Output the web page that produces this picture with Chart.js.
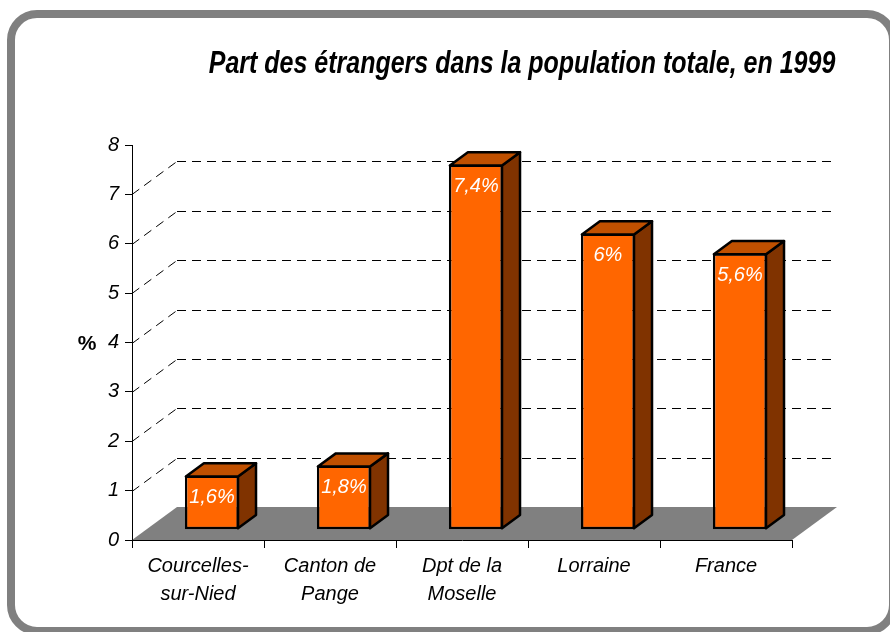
<!DOCTYPE html>
<html>
<head>
<meta charset="utf-8">
<script src="https://cdn.jsdelivr.net/npm/chart.js@4.4.1/dist/chart.umd.min.js"></script>
<style>
  body { margin: 0; background: #fff; }
  #wrap { width: 890px; height: 632px; }
</style>
</head>
<body>
<div id="wrap"><canvas id="chart" width="890" height="632"></canvas></div>
<script>
// data
const categories = [['Courcelles-', 'sur-Nied'], ['Canton de', 'Pange'], ['Dpt de la', 'Moselle'], 'Lorraine', 'France'];
// bar heights as drawn on the chart
const values = [1.1, 1.3, 7.4, 6.0, 5.6];
// labels as printed on the bars
const valueLabels = ['1,6%', '1,8%', '7,4%', '6%', '5,6%'];
const yTicks = [0, 1, 2, 3, 4, 5, 6, 7, 8];
const title = 'Part des étrangers dans la population totale, en 1999';

const FONT = '"Liberation Sans", Arial, sans-serif';
const DEPTH = { dx: 45, dy: -33 };   // floor depth
const FRONT = 0.31, BACK = 0.71;     // where the bars sit inside the depth

const fakeThreeD = {
  id: 'fakeThreeD',
  beforeDraw(chart) {
    const ctx = chart.ctx;
    const area = chart.chartArea;
    const y = chart.scales.y;

    // rounded frame
    ctx.save();
    ctx.strokeStyle = '#808080';
    ctx.lineWidth = 8;
    ctx.beginPath();
    ctx.roundRect(11, 14, 882, 617, 26);
    ctx.stroke();

    // title (the original text is a bit tall and narrow)
    ctx.save();
    ctx.fillStyle = '#000';
    ctx.font = 'italic bold 25px ' + FONT;
    ctx.textAlign = 'center';
    ctx.textBaseline = 'alphabetic';
    ctx.translate(522, 73);
    ctx.scale(1, 1.22);
    ctx.fillText(title, 0, 0);
    ctx.restore();

    // floor
    const y0 = y.getPixelForValue(0);
    ctx.fillStyle = '#808080';
    ctx.beginPath();
    ctx.moveTo(area.left, y0);
    ctx.lineTo(area.right, y0);
    ctx.lineTo(area.right + DEPTH.dx, y0 + DEPTH.dy);
    ctx.lineTo(area.left + DEPTH.dx, y0 + DEPTH.dy);
    ctx.closePath();
    ctx.fill();

    // back wall + side wall gridlines
    ctx.strokeStyle = '#000';
    ctx.lineWidth = 1;
    ctx.setLineDash([9, 6]);
    yTicks.slice(1, -1).forEach(v => {
      const py = Math.round(y.getPixelForValue(v)) + 0.5;
      ctx.beginPath();
      ctx.moveTo(area.left, py);
      ctx.lineTo(area.left + DEPTH.dx, py + DEPTH.dy);
      ctx.stroke();
      ctx.beginPath();
      ctx.moveTo(area.left + DEPTH.dx, py + DEPTH.dy);
      ctx.lineTo(area.right + DEPTH.dx - 4, py + DEPTH.dy);
      ctx.stroke();
    });
    ctx.restore();
  },
  beforeDatasetsDraw(chart) {
    chart.ctx.save();
    chart.ctx.translate(FRONT * DEPTH.dx, FRONT * DEPTH.dy);
  },
  afterDatasetsDraw(chart) {
    const ctx = chart.ctx;
    const bx = (BACK - FRONT) * DEPTH.dx;
    const by = (BACK - FRONT) * DEPTH.dy;
    const meta = chart.getDatasetMeta(0);
    ctx.lineWidth = 2.5;
    ctx.strokeStyle = '#000';
    ctx.lineJoin = 'round';
    meta.data.forEach((bar, i) => {
      const l = bar.x - bar.width / 2 + 1;
      const r = bar.x + bar.width / 2 - 1;
      const t = bar.y + 1;
      const b = bar.base - 1;
      // side face
      ctx.fillStyle = '#803300';
      ctx.beginPath();
      ctx.moveTo(r, t);
      ctx.lineTo(r + bx, t + by);
      ctx.lineTo(r + bx, b + by);
      ctx.lineTo(r, b);
      ctx.closePath();
      ctx.fill();
      ctx.stroke();
      // top face
      ctx.fillStyle = '#C05000';
      ctx.beginPath();
      ctx.moveTo(l, t);
      ctx.lineTo(r, t);
      ctx.lineTo(r + bx, t + by);
      ctx.lineTo(l + bx, t + by);
      ctx.closePath();
      ctx.fill();
      ctx.stroke();
      // value label
      ctx.fillStyle = '#fff';
      ctx.font = 'italic 20px ' + FONT;
      ctx.textAlign = 'center';
      ctx.textBaseline = 'middle';
      ctx.fillText(valueLabels[i], bar.x, bar.y + 22);
    });
    ctx.restore();

    // axis title, upright
    ctx.save();
    ctx.fillStyle = '#000';
    ctx.font = 'bold 21px ' + FONT;
    ctx.textAlign = 'center';
    ctx.textBaseline = 'middle';
    ctx.fillText('%', 87, 344);
    ctx.restore();
  }
};

new Chart(document.getElementById('chart'), {
  type: 'bar',
  data: {
    labels: categories,
    datasets: [{
      data: values,
      backgroundColor: '#FF6600',
      borderColor: '#000',
      borderWidth: 2.5,
      borderSkipped: false,
      categoryPercentage: 1,
      barPercentage: 0.41
    }]
  },
  options: {
    responsive: false,
    animation: false,
    devicePixelRatio: 1,
    layout: { padding: { left: 0, right: 98, top: 145, bottom: 0 } },
    plugins: {
      legend: { display: false },
      tooltip: { enabled: false },
      title: { display: false }
    },
    scales: {
      x: {
        offset: true,
        grid: { offset: true, drawOnChartArea: false, drawTicks: true, tickLength: 8, color: '#000' },
        border: { display: true, color: '#000', width: 1 },
        ticks: { color: '#000', font: { family: FONT, size: 20, style: 'italic', lineHeight: 1.4 }, padding: 4, maxRotation: 0, autoSkip: false },
        afterFit: s => { s.height = 92; }
      },
      y: {
        min: 0,
        max: 8,
        afterBuildTicks: s => { s.ticks = yTicks.map(v => ({ value: v })); },
        grid: { drawOnChartArea: false, drawTicks: true, tickLength: 7, color: '#000' },
        border: { display: true, color: '#000', width: 1 },
        ticks: { color: '#000', font: { family: FONT, size: 20, style: 'italic' }, padding: 6 },
        afterFit: s => { s.width = 132; }
      }
    }
  },
  plugins: [fakeThreeD]
});
</script>
</body>
</html>
